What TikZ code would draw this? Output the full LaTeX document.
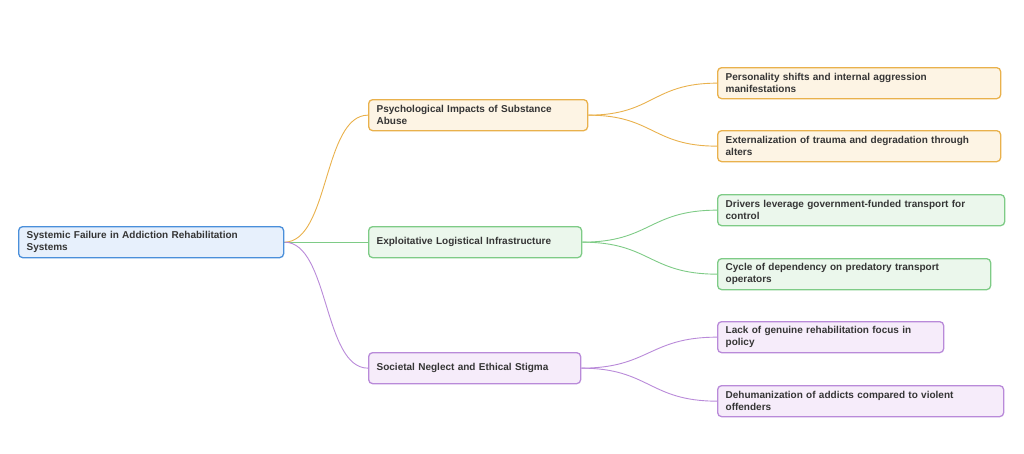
\documentclass[tikz,border=0pt]{standalone}
\usepackage{fontspec}
\setmainfont{Liberation Sans}
\usetikzlibrary{backgrounds}
\definecolor{ostroke}{HTML}{E9B14C}
\definecolor{ofill}{HTML}{FDF4E4}
\definecolor{gstroke}{HTML}{7ECB86}
\definecolor{gfill}{HTML}{EBF7EC}
\definecolor{pstroke}{HTML}{B98AD9}
\definecolor{pfill}{HTML}{F6ECFA}
\definecolor{bstroke}{HTML}{4A8FDA}
\definecolor{bfill}{HTML}{E7F0FC}
\definecolor{txt}{HTML}{353535}
\tikzset{
  box/.style={draw, rounded corners=4pt, line width=1.3pt, anchor=north west,
    inner xsep=8pt, inner ysep=0pt, minimum height=31pt, align=left,
    font=\fontsize{10}{12.2}\selectfont\bfseries, text=txt},
  obox/.style={box, draw=ostroke, fill=ofill},
  gbox/.style={box, draw=gstroke, fill=gfill},
  pbox/.style={box, draw=pstroke, fill=pfill},
  bbox/.style={box, draw=bstroke, fill=bfill},
  conn/.style={line width=0.9pt},
}
\begin{document}
\begin{tikzpicture}[x=1pt,y=-1pt]
\useasboundingbox (0,0) rectangle (1024,453);
\node[bbox, minimum width=265pt, text width=249pt] (root) at (18,226) {Systemic Failure in Addiction Rehabilitation\\Systems};
\node[obox, minimum width=219pt, text width=203pt] (psy) at (368,99) {Psychological Impacts of Substance\\Abuse};
\node[gbox, minimum width=213pt, text width=197pt] (exp) at (368,226) {Exploitative Logistical Infrastructure};
\node[pbox, minimum width=212pt, text width=196pt] (soc) at (368,352) {Societal Neglect and Ethical Stigma};
\node[obox, minimum width=283pt, text width=267pt] (l1) at (717,67) {Personality shifts and internal aggression\\manifestations};
\node[obox, minimum width=283pt, text width=267pt] (l2) at (717,130) {Externalization of trauma and degradation through\\alters};
\node[gbox, minimum width=287pt, text width=271pt] (l3) at (717,194) {Drivers leverage government-funded transport for\\control};
\node[gbox, minimum width=273pt, text width=257pt] (l4) at (717,258) {Cycle of dependency on predatory transport\\operators};
\node[pbox, minimum width=226pt, text width=210pt] (l5) at (717,321) {Lack of genuine rehabilitation focus in\\policy};
\node[pbox, minimum width=286pt, text width=270pt] (l6) at (717,385) {Dehumanization of addicts compared to violent\\offenders};
\begin{scope}[on background layer]
\draw[conn, ostroke] (root.east) .. controls +(45,0) and +(-45,0) .. (psy.west);
\draw[conn, gstroke] (root.east) -- (exp.west);
\draw[conn, pstroke] (root.east) .. controls +(45,0) and +(-45,0) .. (soc.west);
\draw[conn, ostroke] (psy.east) .. controls +(65,0) and +(-65,0) .. (l1.west);
\draw[conn, ostroke] (psy.east) .. controls +(65,0) and +(-65,0) .. (l2.west);
\draw[conn, gstroke] (exp.east) .. controls +(68,0) and +(-68,0) .. (l3.west);
\draw[conn, gstroke] (exp.east) .. controls +(68,0) and +(-68,0) .. (l4.west);
\draw[conn, pstroke] (soc.east) .. controls +(68,0) and +(-68,0) .. (l5.west);
\draw[conn, pstroke] (soc.east) .. controls +(68,0) and +(-68,0) .. (l6.west);
\end{scope}
\end{tikzpicture}
\end{document}
